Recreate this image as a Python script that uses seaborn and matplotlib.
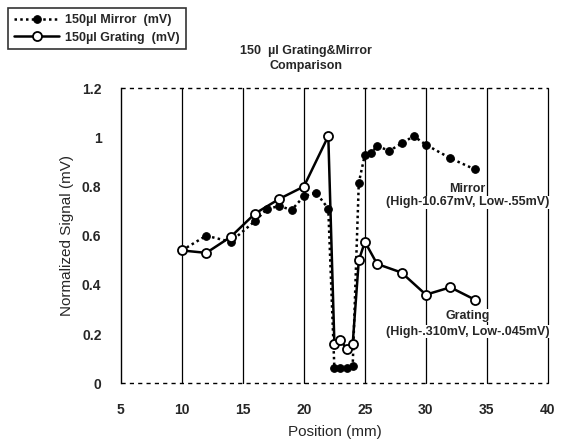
import numpy as np
import pandas as pd
import seaborn as sns
import matplotlib.pyplot as plt

# -----------------------------
# Data
# -----------------------------
mirror_pos = [10, 12, 14, 16, 17, 18, 19, 20, 21, 22, 22.5, 23, 23.5, 24,
              24.5, 25, 25.5, 26, 27, 28, 29, 30, 32, 34]
mirror_sig = [0.54, 0.60, 0.575, 0.66, 0.71, 0.72, 0.705, 0.76, 0.775, 0.71,
              0.06, 0.06, 0.06, 0.07, 0.815, 0.93, 0.935, 0.965, 0.945, 0.975,
              1.005, 0.97, 0.915, 0.87]

grating_pos = [10, 12, 14, 16, 18, 20, 22, 22.5, 23, 23.5, 24, 24.5, 25, 26,
               28, 30, 32, 34]
grating_sig = [0.54, 0.53, 0.595, 0.69, 0.75, 0.80, 1.005, 0.16, 0.175, 0.14,
               0.16, 0.50, 0.575, 0.485, 0.45, 0.36, 0.39, 0.34]

x_ticks = [5, 10, 15, 20, 25, 30, 35, 40]
y_ticks = [0, 0.2, 0.4, 0.6, 0.8, 1.0, 1.2]
y_tick_labels = ["0", "0.2", "0.4", "0.6", "0.8", "1", "1.2"]

df_m = pd.DataFrame({"pos": mirror_pos, "sig": mirror_sig})
df_g = pd.DataFrame({"pos": grating_pos, "sig": grating_sig})

# -----------------------------
# Plot
# -----------------------------
sns.set_style("white")
plt.rcParams["font.family"] = ["Liberation Sans", "DejaVu Sans"]

fig = plt.figure(figsize=(5.62, 4.43), dpi=100)
ax = fig.add_axes([0.215, 0.135, 0.76, 0.666])

# vertical grid lines
for xv in x_ticks[1:]:
    ax.axvline(xv, color="black", lw=0.9, zorder=1, clip_on=False)
# dotted lines at 0 and 1.2
for yv in (0, 1.2):
    ax.axhline(yv, color="black", lw=1.0, ls=(0, (3, 3)), zorder=1, clip_on=False)

sns.lineplot(data=df_m, x="pos", y="sig", ax=ax, estimator=None, sort=False,
             color="black", lw=1.8, ls=(0, (1, 1.3)), marker="o", markersize=5.5,
             markerfacecolor="black", markeredgecolor="black",
             label="150µl Mirror  (mV)", zorder=3)
sns.lineplot(data=df_g, x="pos", y="sig", ax=ax, estimator=None, sort=False,
             color="black", lw=1.8, marker="o", markersize=6.5,
             markerfacecolor="white", markeredgecolor="black", markeredgewidth=1.3,
             label="150µl Grating  (mV)", zorder=4)

ax.set_xlim(5, 40)
ax.set_ylim(0, 1.2)
ax.set_xticks(x_ticks)
ax.set_xticklabels([str(v) for v in x_ticks], fontweight="bold", fontsize=10)
ax.set_yticks(y_ticks)
ax.set_yticklabels(y_tick_labels, fontweight="bold", fontsize=10)
ax.tick_params(axis="x", length=0, pad=14)
ax.tick_params(axis="y", length=0, pad=14)

for s in ("top", "bottom", "right"):
    ax.spines[s].set_visible(False)
ax.spines["left"].set_color("black")
ax.spines["left"].set_linewidth(1.0)

ax.set_xlabel("Position (mm)", fontsize=11, labelpad=6)
ax.set_ylabel("Normalized Signal (mV)", fontsize=11, labelpad=6)

# annotations
box = dict(facecolor="white", edgecolor="none", pad=0.5)
ax.text(33.4, 0.79, "Mirror", ha="center", va="center", fontsize=9,
        fontweight="bold", bbox=box, zorder=5, clip_on=False)
ax.text(33.4, 0.735, "(High-10.67mV, Low-.55mV)", ha="center", va="center",
        fontsize=9, fontweight="bold", bbox=box, zorder=5, clip_on=False)
ax.text(33.4, 0.275, "Grating", ha="center", va="center", fontsize=9,
        fontweight="bold", bbox=box, zorder=5, clip_on=False)
ax.text(33.4, 0.21, "(High-.310mV, Low-.045mV)", ha="center", va="center",
        fontsize=9, fontweight="bold", bbox=box, zorder=5, clip_on=False)

fig.text(0.545, 0.868, "150  µl Grating&Mirror\nComparison", ha="center", va="center",
         fontsize=9, fontweight="bold", linespacing=1.4)

ax.get_legend().remove()
handles, labels = ax.get_legend_handles_labels()
leg = fig.legend(handles, labels, loc="upper left", bbox_to_anchor=(0.004, 0.995),
                 frameon=True, fancybox=False, edgecolor="black",
                 prop={"weight": "bold", "size": 9}, handlelength=3.6,
                 borderpad=0.45, labelspacing=0.45, handletextpad=0.5)
leg.get_frame().set_linewidth(1.2)

fig.savefig("out.png", dpi=100)
